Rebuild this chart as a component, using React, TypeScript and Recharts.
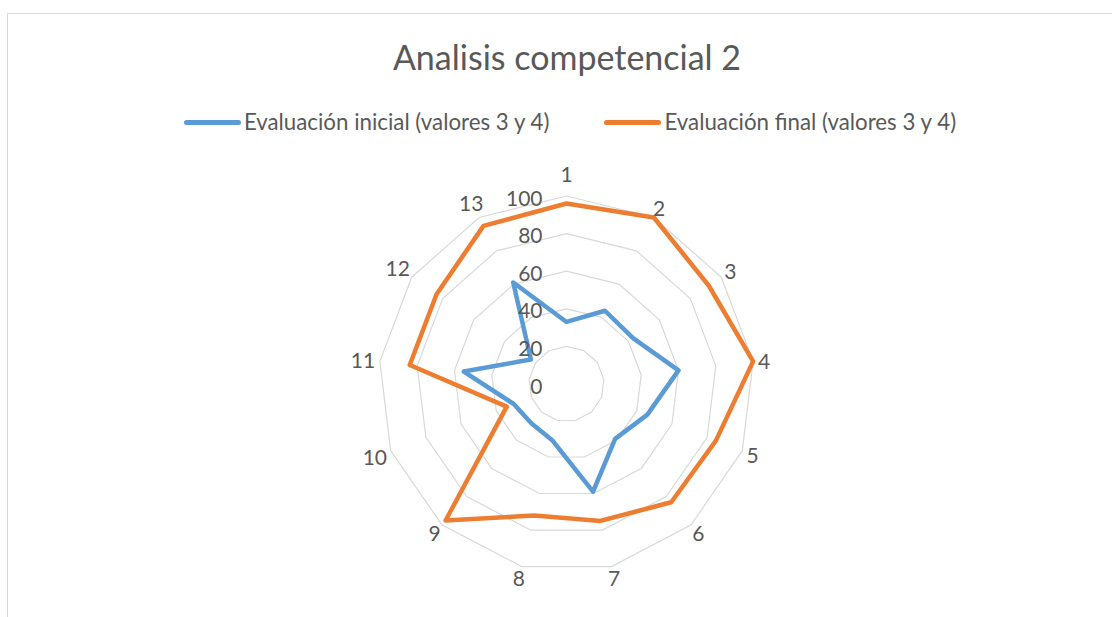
import React from 'react';
import { RadarChart, Radar, PolarGrid, PolarAngleAxis, PolarRadiusAxis } from 'recharts';

const categories = ['1', '2', '3', '4', '5', '6', '7', '8', '9', '10', '11', '12', '13'];
const inicial = [33, 44, 43, 60, 46, 39, 59, 31, 28, 30, 55, 23, 61];
const final = [96, 100, 92, 100, 85, 84, 75, 72, 97, 34, 84, 84, 95];
const radiusTicks = [0, 20, 40, 60, 80, 100];

const SERIES = [
  { key: 'inicial', name: 'Evaluación inicial (valores 3 y 4)', color: '#5B9BD5' },
  { key: 'final', name: 'Evaluación final (valores 3 y 4)', color: '#ED7D31' },
];

const FONT = 'Lato, "Open Sans", sans-serif';
const TEXT = '#595959';
const W = 1110;
const H = 602;
const CX = 558.5;
const CY = 370;
const R = 188;

const data = categories.map((name, i) => ({ name, inicial: inicial[i], final: final[i] }));

const AngleTick = (props: any) => {
  const { payload, index } = props;
  const label = String(payload.value);
  const a = ((90 - (index * 360) / categories.length) * Math.PI) / 180;
  const cos = Math.cos(a);
  const sin = Math.sin(a);
  // Excel leaves a bit more room above the top label
  let r = 199 + (label.length - 1) * 6;
  if (sin > 0.99) r = 211;
  return (
    <text
      x={CX + r * cos}
      y={CY - r * sin}
      textAnchor="middle"
      dominantBaseline="central"
      fill={TEXT}
      fontSize={21}
      fontFamily={FONT}
    >
      {label}
    </text>
  );
};

const RadiusTick = (props: any) => {
  const { x, y, payload } = props;
  return (
    <text x={x - 24} y={y + 1} textAnchor="end" dominantBaseline="central" fill={TEXT} fontSize={21} fontFamily={FONT}>
      {payload.value}
    </text>
  );
};

export default function App() {
  return (
    <div
      style={{
        position: 'fixed',
        left: 7,
        top: 13,
        width: 1120,
        height: 604,
        border: '1px solid #d9d9d9',
        background: '#fff',
        fontFamily: FONT,
      }}
    >
      <div
        style={{
          position: 'absolute',
          left: 0,
          top: 23,
          width: 1118,
          textAlign: 'center',
          fontSize: 34,
          lineHeight: '40px',
          color: TEXT,
        }}
      >
        Analisis competencial 2
      </div>
      <div
        style={{
          position: 'absolute',
          left: 0,
          top: 95,
          width: 1124,
          display: 'flex',
          justifyContent: 'center',
          gap: 55,
          fontSize: 22.3,
          lineHeight: '26px',
          color: TEXT,
        }}
      >
        {SERIES.map((s) => (
          <div key={s.key} style={{ display: 'flex', alignItems: 'center' }}>
            <span
              style={{
                display: 'inline-block',
                width: 57,
                height: 5,
                borderRadius: 3,
                background: s.color,
                marginRight: 3,
              }}
            />
            <span>{s.name}</span>
          </div>
        ))}
      </div>
      <RadarChart width={W} height={H} data={data} cx={CX} cy={CY} outerRadius={R} margin={{ top: 0, right: 0, bottom: 0, left: 0 }}>
        <PolarGrid gridType="polygon" radialLines={false} stroke="#d9d9d9" strokeWidth={1.2} />
        <PolarAngleAxis dataKey="name" tick={<AngleTick />} axisLine={false} tickLine={false} />
        <PolarRadiusAxis
          angle={90}
          domain={[0, 100]}
          ticks={radiusTicks as any}
          tickCount={6}
          tick={<RadiusTick />}
          axisLine={false}
          tickLine={false}
        />
        {SERIES.map((s) => (
          <Radar
            key={s.key}
            name={s.name}
            dataKey={s.key}
            stroke={s.color}
            strokeWidth={4.5}
            strokeLinejoin="round"
            fill="none"
            fillOpacity={0}
            dot={false}
            isAnimationActive={false}
          />
        ))}
      </RadarChart>
    </div>
  );
}
